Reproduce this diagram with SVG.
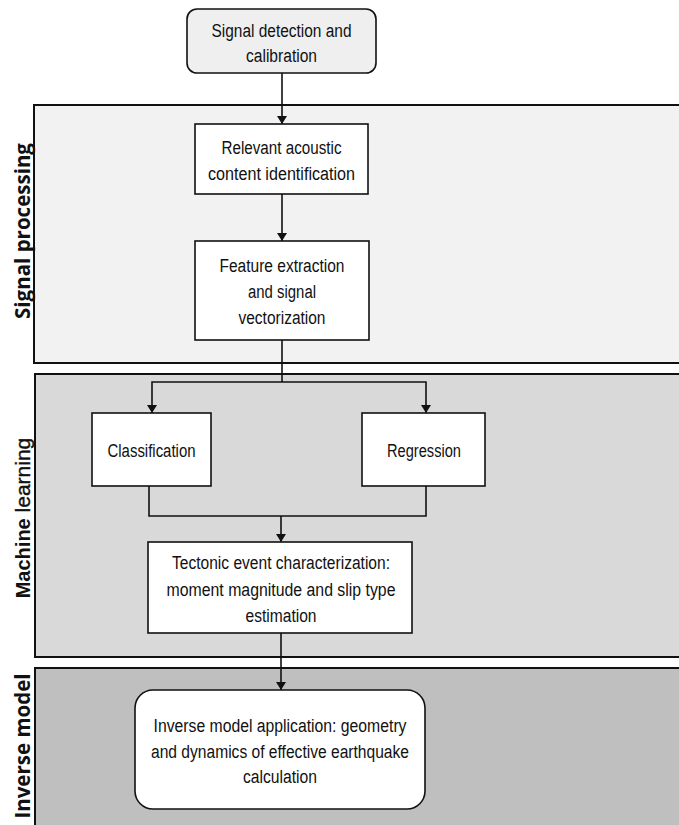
<svg xmlns="http://www.w3.org/2000/svg" width="679" height="825" viewBox="0 0 679 825">
<style>
.panel{stroke:#111;stroke-width:2}
.box{fill:#fff;stroke:#111;stroke-width:1.6}
.t{font-family:"Liberation Sans",Arial,sans-serif;font-size:18px;fill:#111;text-anchor:middle}
.lab{font-family:"Open Sans","Liberation Sans",sans-serif;font-size:20.5px;font-weight:bold;fill:#111;text-anchor:middle}
.lab2{font-family:"Liberation Sans",Arial,sans-serif;fill:#111;text-anchor:middle}
.c{fill:none;stroke:#111;stroke-width:1.6}
</style>
<defs>
<marker id="ah" viewBox="0 0 8 10" refX="8" refY="5" markerWidth="8" markerHeight="10" markerUnits="userSpaceOnUse" orient="auto">
<path d="M0,0 L8,5 L0,10 z" fill="#111"/>
</marker>
</defs>
<rect width="679" height="825" fill="#fff"/>
<g id="panel-signal-processing">
<rect class="panel" x="34" y="105" width="660" height="258" fill="#f2f2f2"/>
<text class="lab" transform="translate(29.5,231) rotate(-90)">Signal processing</text>
</g>
<g id="panel-machine-learning">
<rect class="panel" x="35" y="374" width="660" height="283" fill="#d9d9d9"/>
<text class="lab2" transform="translate(30,518) rotate(-90)"><tspan font-weight="bold" font-size="20px">Machine</tspan><tspan font-size="21px" stroke="#111" stroke-width="0.4"> learning</tspan></text>
</g>
<g id="panel-inverse-model">
<rect class="panel" x="35" y="668" width="660" height="160" fill="#bfbfbf"/>
<text class="lab" transform="translate(29.5,746) rotate(-90)">Inverse model</text>
</g>
<g id="connectors">
<path class="c" d="M282,73 V124" marker-end="url(#ah)"/>
<path class="c" d="M282,194 V241" marker-end="url(#ah)"/>
<path class="c" d="M282,340 V382"/>
<path class="c" d="M282,382 H152 V413" marker-end="url(#ah)"/>
<path class="c" d="M282,382 H426 V413" marker-end="url(#ah)"/>
<path class="c" d="M149,486 V516 H426 V486"/>
<path class="c" d="M281,516 V542" marker-end="url(#ah)"/>
<path class="c" d="M281,633 V690" marker-end="url(#ah)"/>
</g>
<g id="node-signal-detection">
<rect x="187" y="9" width="189" height="64" rx="10" fill="#efefef" stroke="#111" stroke-width="1.6"/>
<text class="t" x="281.5" y="37" textLength="140" lengthAdjust="spacingAndGlyphs">Signal detection and</text>
<text class="t" x="281.5" y="62" textLength="71" lengthAdjust="spacingAndGlyphs">calibration</text>
</g>
<g id="node-relevant-acoustic">
<rect class="box" x="195" y="124" width="173" height="70"/>
<text class="t" x="281.5" y="154" textLength="120" lengthAdjust="spacingAndGlyphs">Relevant acoustic</text>
<text class="t" x="281.5" y="180" textLength="147" lengthAdjust="spacingAndGlyphs">content identification</text>
</g>
<g id="node-feature-extraction">
<rect class="box" x="195" y="241" width="174" height="99"/>
<text class="t" x="282" y="272" textLength="125" lengthAdjust="spacingAndGlyphs">Feature extraction</text>
<text class="t" x="282" y="298" textLength="68" lengthAdjust="spacingAndGlyphs">and signal</text>
<text class="t" x="282" y="324" textLength="87" lengthAdjust="spacingAndGlyphs">vectorization</text>
</g>
<g id="node-classification">
<rect class="box" x="92" y="413" width="119" height="73"/>
<text class="t" x="151.5" y="457" textLength="88" lengthAdjust="spacingAndGlyphs">Classification</text>
</g>
<g id="node-regression">
<rect class="box" x="362" y="413" width="123" height="73"/>
<text class="t" x="424" y="457" textLength="74" lengthAdjust="spacingAndGlyphs">Regression</text>
</g>
<g id="node-tectonic-event">
<rect class="box" x="148" y="542" width="264" height="91"/>
<text class="t" x="281" y="569" textLength="218" lengthAdjust="spacingAndGlyphs">Tectonic event characterization:</text>
<text class="t" x="281" y="596" textLength="229" lengthAdjust="spacingAndGlyphs">moment magnitude and slip type</text>
<text class="t" x="281" y="622" textLength="71" lengthAdjust="spacingAndGlyphs">estimation</text>
</g>
<g id="node-inverse-model">
<rect x="135" y="690" width="290" height="119" rx="18" fill="#fff" stroke="#111" stroke-width="1.6"/>
<text class="t" x="280" y="732" textLength="253" lengthAdjust="spacingAndGlyphs">Inverse model application: geometry</text>
<text class="t" x="280" y="758" textLength="258" lengthAdjust="spacingAndGlyphs">and dynamics of effective earthquake</text>
<text class="t" x="280" y="783" textLength="74" lengthAdjust="spacingAndGlyphs">calculation</text>
</g>
</svg>
